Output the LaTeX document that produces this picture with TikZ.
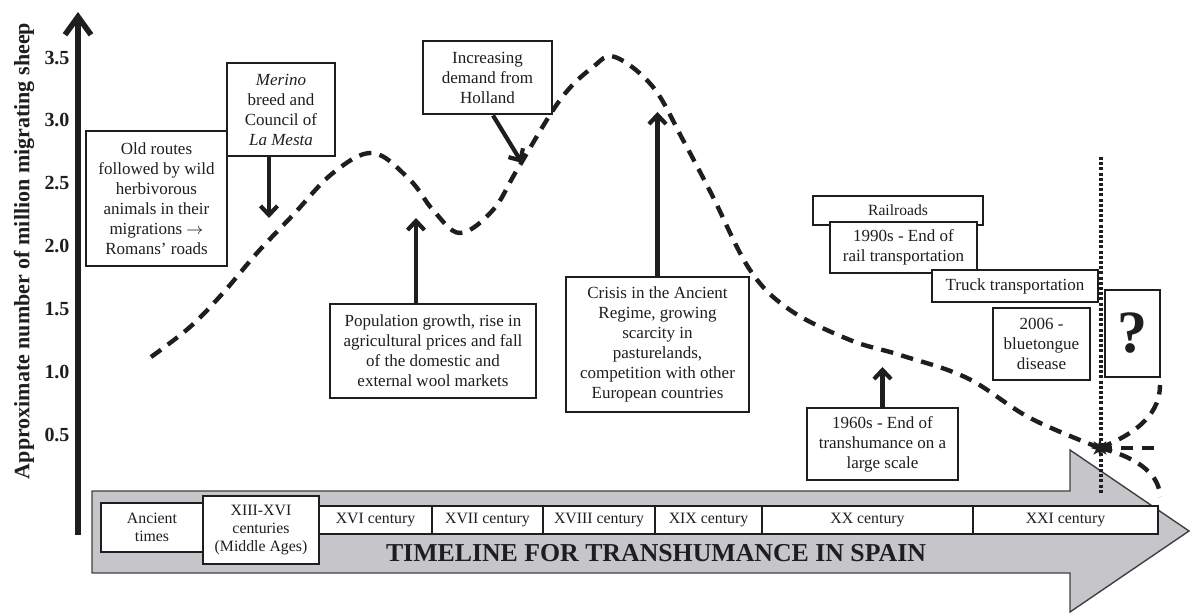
\documentclass[tikz,border=0pt]{standalone}
\usepackage{fontspec}
\setmainfont{Liberation Serif}
\usetikzlibrary{arrows.meta,shapes.geometric}
\definecolor{tlgray}{RGB}{198,198,202}
\definecolor{ink}{RGB}{30,30,30}
\begin{document}
\begin{tikzpicture}[x=0.5pt,y=-0.5pt,
  box/.style={draw=ink, line width=1.45pt, fill=white, align=center, inner sep=0pt, text=ink,
    font=\fontsize{8.5}{10}\selectfont},
  rowbox/.style={draw=ink, line width=1.35pt, fill=white, align=center, inner sep=0pt, text=ink,
    font=\fontsize{7.9}{9.2}\selectfont},
  arr/.style={draw=ink, line width=2.1pt, -{Straight Barb[length=4.5pt,width=8.5pt]}},
  curve/.style={draw=ink, line width=2.2pt, dash pattern=on 6.2pt off 4.2pt},
  ylab/.style={font=\fontsize{10}{12}\selectfont\bfseries, text=ink, inner sep=0pt}
]
\useasboundingbox (0,0) rectangle (1190,613);

% timeline arrow
\draw[fill=tlgray, draw=black!75, line width=0.7pt]
  (92,491) -- (1070,491) -- (1070,450) -- (1189,531) -- (1070,612) -- (1070,573) -- (92,573) -- cycle;

% row boxes
\node[rowbox, minimum width=56.5pt, minimum height=14pt] (c16) at (375.5,520) {XVI century};
\node[rowbox, minimum width=55.5pt, minimum height=14pt] (c17) at (487.5,520) {XVII century};
\node[rowbox, minimum width=56pt, minimum height=14pt] (c18) at (599,520) {XVIII century};
\node[rowbox, minimum width=53.5pt, minimum height=14pt] (c19) at (708.5,520) {XIX century};
\node[rowbox, minimum width=105.5pt, minimum height=14pt] (c20) at (867.5,520) {XX century};
\node[rowbox, minimum width=92.5pt, minimum height=14pt] (c21) at (1065.5,520) {XXI century};
\node[rowbox, minimum width=51pt, minimum height=24.5pt] (anc) at (152,527.5) {Ancient\\times};
\node[rowbox, minimum width=58pt, minimum height=34pt] (mid) at (261,530) {XIII-XVI\\centuries\\(Middle Ages)};

\node[font=\fontsize{12.9}{14}\selectfont\bfseries, text=ink, inner sep=0pt] (title) at (656,553)
  {TIMELINE FOR TRANSHUMANCE IN SPAIN};

% y axis
\coordinate (ybot) at (78,535);
\coordinate (ytop) at (78,12);
\draw[draw=ink, line width=2.8pt, -{Straight Barb[length=9pt,width=13pt]}] (ybot) -- (ytop);
\node[ylab, rotate=90, font=\fontsize{11}{13}\selectfont\bfseries] (ytitle) at (24,251) {Approximate number of million migrating sheep};
\node[ylab] (l35) at (57,58) {3.5};
\node[ylab] (l30) at (57,120) {3.0};
\node[ylab] (l25) at (57,183) {2.5};
\node[ylab] (l20) at (57,246) {2.0};
\node[ylab] (l15) at (57,309) {1.5};
\node[ylab] (l10) at (57,372) {1.0};
\node[ylab] (l05) at (57,435) {0.5};

% dashed curve
\draw[curve] plot[smooth, tension=0.6] coordinates {
  (151,357) (190,327) (223,293) (257,253) (293,215) (333,173) (373,153)
  (410,180) (433,210) (460,233) (493,210) (517,170) (560,100) (593,67) (615,57)
  (653,87) (683,140) (712,195) (750,270) (790,310) (850,340) (900,355) (967,378)
  (1030,418) (1100,448)};

% dotted vertical line
\coordinate (dtop) at (1101,157);
\coordinate (dbot) at (1101,495);
\draw[draw=ink, line width=1.7pt, dash pattern=on 1.5pt off 1.1pt] (dtop) -- (dbot);

% star and future branches
\node[star, star points=8, star point ratio=2.2, fill=ink, inner sep=0pt, minimum size=9.5pt] (star) at (1100,448) {};
\coordinate (bup) at (1160,385);
\coordinate (bmid) at (1162,448);
\coordinate (bdown) at (1160,497);
\draw[curve] (star.center) .. controls (1140,432) and (1160,412) .. (bup);
\draw[curve] (star.center) -- (bmid);
\draw[curve] (star.center) .. controls (1140,458) and (1160,476) .. (bdown);

% annotation boxes
\node[box, minimum width=70.5pt, minimum height=67.5pt] (old) at (156.5,198.5)
  {Old routes\\followed by wild\\herbivorous\\animals in their\\migrations $\rightarrow$\\Romans’ roads};
\node[box, minimum width=54pt, minimum height=46.5pt] (merino) at (281,109.5)
  {\textit{Merino}\\breed and\\Council of\\\textit{La Mesta}};
\node[box, minimum width=64.5pt, minimum height=36.5pt] (holland) at (487.5,77.5)
  {Increasing\\demand from\\Holland};
\node[box, minimum width=103pt, minimum height=47pt] (pop) at (433,351)
  {Population growth, rise in\\agricultural prices and fall\\of the domestic and\\external wool markets};
\node[box, minimum width=91.5pt, minimum height=67.5pt] (crisis) at (657.5,344.5)
  {Crisis in the Ancient\\Regime, growing\\scarcity in\\pasturelands,\\competition with other\\European countries};
\node[box, minimum width=85pt, minimum height=14.5pt, font=\fontsize{7.8}{9}\selectfont] (rail) at (898,210.5) {Railroads};
\node[box, minimum width=73.5pt, minimum height=25.5pt] (r1990) at (903.5,247.5)
  {1990s - End of\\rail transportation};
\node[box, minimum width=83pt, minimum height=16pt] (truck) at (1015,286) {Truck transportation};
\node[box, minimum width=48.5pt, minimum height=36pt] (blue) at (1041.5,344) {2006 -\\bluetongue\\disease};
\node[box, minimum width=27.5pt, minimum height=43.5pt, font=\fontsize{30}{30}\selectfont\bfseries] (q) at (1132.5,333.5) {?};
\node[box, minimum width=75.5pt, minimum height=36pt] (s1960) at (882.5,444)
  {1960s - End of\\transhumance on a\\large scale};

% arrows
\coordinate (mtip) at (269,218);
\coordinate (htip) at (522,163);
\coordinate (ptip) at (416,218);
\coordinate (ctip) at (657.5,112);
\coordinate (stip) at (882.5,367);
\draw[arr] (merino.south -| mtip) -- (mtip);
\draw[arr] ([xshift=2.75pt]holland.south) -- (htip);
\draw[arr] (pop.north -| ptip) -- (ptip);
\draw[arr] (crisis.north) -- (ctip);
\draw[arr] (s1960.north) -- (stip);
\end{tikzpicture}
\end{document}
